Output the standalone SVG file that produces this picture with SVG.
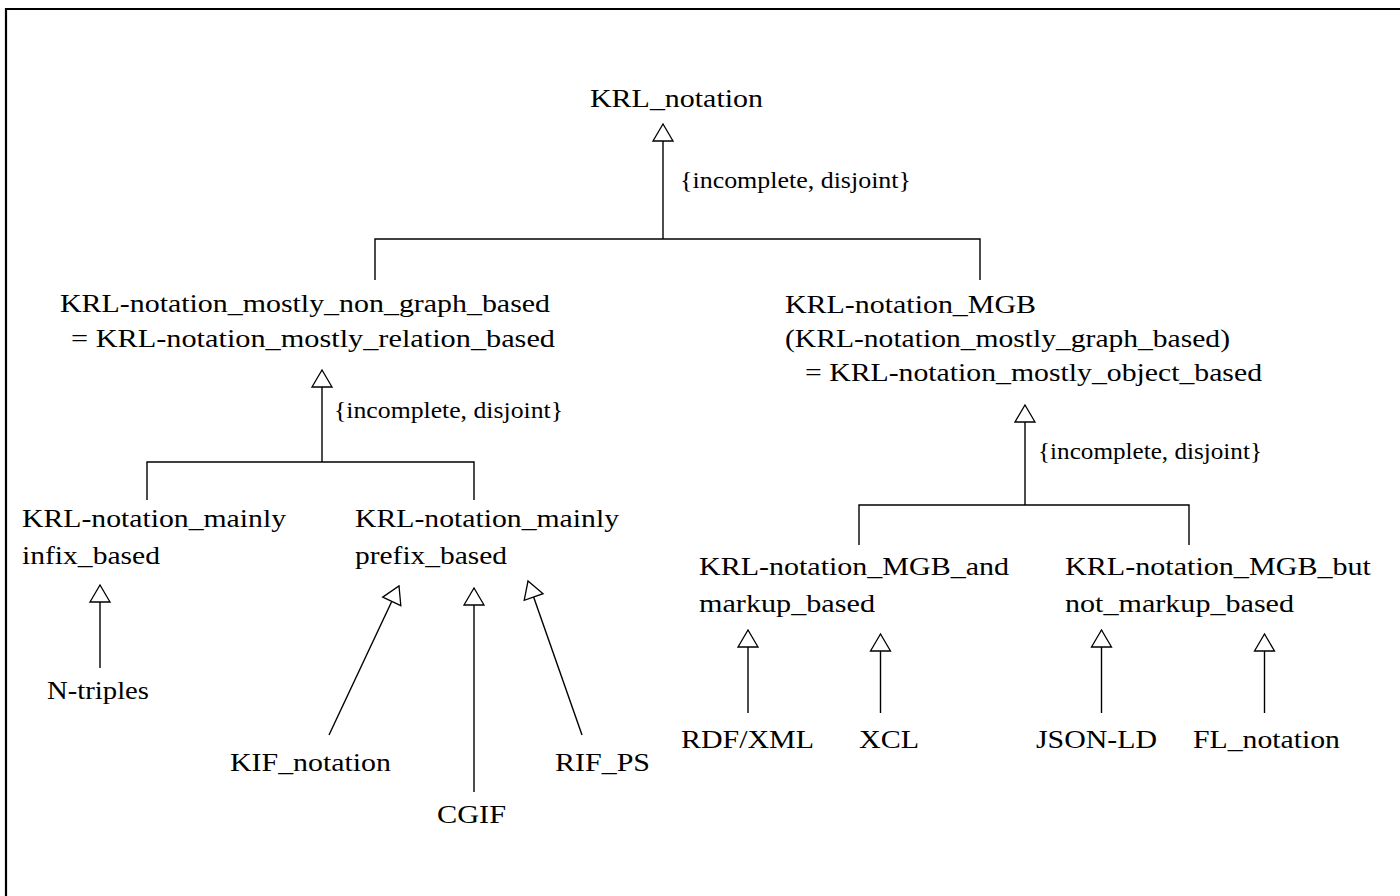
<svg xmlns="http://www.w3.org/2000/svg" width="1400" height="896" viewBox="0 0 1400 896">
  <style>
    text { font-family: "Liberation Serif", "Times New Roman", serif; fill: #000; }
    .node text { font-size: 26px; }
    .constraint { font-size: 23.5px; }
    .edge { stroke: #000; stroke-width: 1.4; fill: none; }
    .gen { marker-end: url(#hollow); }
    .frame { stroke: #000; stroke-width: 2.2; fill: none; }
  </style>
  <defs>
    <!-- hollow triangle head for generalisation links -->
    <marker id="hollow" markerUnits="userSpaceOnUse" viewBox="-1 -1 19 22" markerWidth="19" markerHeight="22" refX="17" refY="10" orient="auto" overflow="visible">
      <path d="M0,0 L17,10 L0,20 Z" fill="#fff" stroke="#000" stroke-width="1.3" stroke-linejoin="miter"/>
    </marker>
  </defs>

  <rect width="1400" height="896" fill="#fff"/>
  <!-- page frame (top and left edges) -->
  <path class="frame" d="M5,9 H1400 M6,8 V896"/>

  <g id="connectors">
    <!-- KRL_notation subtypes -->
    <path class="edge gen" d="M663,239 V124"/>
    <polyline class="edge" points="375,280 375,239 980,239 980,280"/>
    <text class="constraint" x="680" y="188" textLength="231" lengthAdjust="spacingAndGlyphs">{incomplete, disjoint}</text>

    <!-- non graph based subtypes -->
    <path class="edge gen" d="M322,462 V370"/>
    <polyline class="edge" points="147,500 147,462 474,462 474,500"/>
    <text class="constraint" x="334" y="418" textLength="229" lengthAdjust="spacingAndGlyphs">{incomplete, disjoint}</text>

    <!-- MGB subtypes -->
    <path class="edge gen" d="M1025,505 V405"/>
    <polyline class="edge" points="859,545 859,505 1189,505 1189,545"/>
    <text class="constraint" x="1038" y="459" textLength="224" lengthAdjust="spacingAndGlyphs">{incomplete, disjoint}</text>

    <!-- leaves -->
    <path class="edge gen" d="M100,668 V585"/>
    <path class="edge gen" d="M329,735 L399,586"/>
    <path class="edge gen" d="M474,792 V588"/>
    <path class="edge gen" d="M582,735 L528,581"/>
    <path class="edge gen" d="M748,713 V630"/>
    <path class="edge gen" d="M880.5,713 V634"/>
    <path class="edge gen" d="M1101.5,713 V630"/>
    <path class="edge gen" d="M1264.5,713 V634"/>
  </g>

  <g id="krl-notation" class="node">
    <text x="590" y="107" textLength="173" lengthAdjust="spacingAndGlyphs">KRL_notation</text>
  </g>

  <g id="krl-notation-non-graph" class="node">
    <text x="60" y="312" textLength="490" lengthAdjust="spacingAndGlyphs">KRL-notation_mostly_non_graph_based</text>
    <text x="71" y="347" textLength="484" lengthAdjust="spacingAndGlyphs">= KRL-notation_mostly_relation_based</text>
  </g>

  <g id="krl-notation-mgb" class="node">
    <text x="785" y="313" textLength="251" lengthAdjust="spacingAndGlyphs">KRL-notation_MGB</text>
    <text x="785" y="347" textLength="445" lengthAdjust="spacingAndGlyphs">(KRL-notation_mostly_graph_based)</text>
    <text x="805" y="381" textLength="457" lengthAdjust="spacingAndGlyphs">= KRL-notation_mostly_object_based</text>
  </g>

  <g id="krl-notation-infix" class="node">
    <text x="22" y="527" textLength="264" lengthAdjust="spacingAndGlyphs">KRL-notation_mainly</text>
    <text x="22" y="564" textLength="138" lengthAdjust="spacingAndGlyphs">infix_based</text>
  </g>

  <g id="krl-notation-prefix" class="node">
    <text x="355" y="527" textLength="264" lengthAdjust="spacingAndGlyphs">KRL-notation_mainly</text>
    <text x="355" y="564" textLength="152" lengthAdjust="spacingAndGlyphs">prefix_based</text>
  </g>

  <g id="krl-notation-mgb-markup" class="node">
    <text x="699" y="575" textLength="310" lengthAdjust="spacingAndGlyphs">KRL-notation_MGB_and</text>
    <text x="699" y="612" textLength="176" lengthAdjust="spacingAndGlyphs">markup_based</text>
  </g>

  <g id="krl-notation-mgb-not-markup" class="node">
    <text x="1065" y="575" textLength="306" lengthAdjust="spacingAndGlyphs">KRL-notation_MGB_but</text>
    <text x="1065" y="612" textLength="229" lengthAdjust="spacingAndGlyphs">not_markup_based</text>
  </g>

  <g id="n-triples" class="node">
    <text x="47" y="699" textLength="102" lengthAdjust="spacingAndGlyphs">N-triples</text>
  </g>
  <g id="kif-notation" class="node">
    <text x="230" y="771" textLength="161" lengthAdjust="spacingAndGlyphs">KIF_notation</text>
  </g>
  <g id="cgif" class="node">
    <text x="437" y="823" textLength="69" lengthAdjust="spacingAndGlyphs">CGIF</text>
  </g>
  <g id="rif-ps" class="node">
    <text x="555" y="771" textLength="95" lengthAdjust="spacingAndGlyphs">RIF_PS</text>
  </g>
  <g id="rdf-xml" class="node">
    <text x="681" y="748" textLength="133" lengthAdjust="spacingAndGlyphs">RDF/XML</text>
  </g>
  <g id="xcl" class="node">
    <text x="859" y="748" textLength="60" lengthAdjust="spacingAndGlyphs">XCL</text>
  </g>
  <g id="json-ld" class="node">
    <text x="1036" y="748" textLength="121" lengthAdjust="spacingAndGlyphs">JSON-LD</text>
  </g>
  <g id="fl-notation" class="node">
    <text x="1193" y="748" textLength="147" lengthAdjust="spacingAndGlyphs">FL_notation</text>
  </g>
</svg>
